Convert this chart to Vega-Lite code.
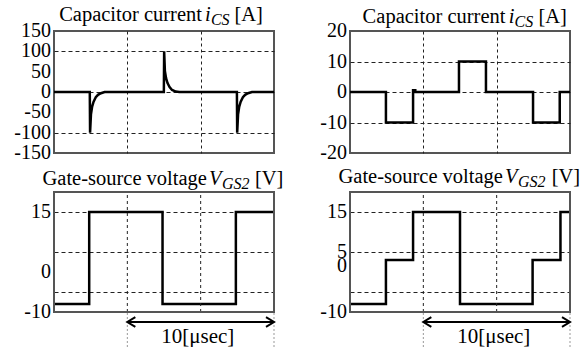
{
  "$schema": "https://vega.github.io/schema/vega-lite/v6.json",
  "autosize": {"type": "pad"},
  "padding": {"left": 13, "top": 4, "right": 0, "bottom": 0},
  "background": "white",
  "bounds": "flush",
  "columns": 2,
  "spacing": {"row": 39, "column": 76},
  "datasets": {
    "tl": [{"t":0,"i":0},{"t":2.44,"i":0},{"t":2.46,"i":-100},{"t":2.52,"i":-55},{"t":2.6,"i":-36},{"t":2.7,"i":-24},{"t":2.85,"i":-13},{"t":3.0,"i":-7},{"t":3.2,"i":-3},{"t":3.45,"i":0},{"t":7.49,"i":0},{"t":7.51,"i":100},{"t":7.56,"i":52},{"t":7.64,"i":34},{"t":7.74,"i":22},{"t":7.88,"i":12},{"t":8.05,"i":5},{"t":8.3,"i":1},{"t":8.55,"i":0},{"t":12.47,"i":0},{"t":12.49,"i":-100},{"t":12.55,"i":-55},{"t":12.63,"i":-36},{"t":12.73,"i":-24},{"t":12.88,"i":-13},{"t":13.03,"i":-7},{"t":13.23,"i":-3},{"t":13.5,"i":0},{"t":15,"i":0}],
    "tr": [{"t":0,"i":0},{"t":2.45,"i":-10},{"t":4.3,"i":0.6},{"t":4.45,"i":0},{"t":7.43,"i":10},{"t":9.27,"i":0},{"t":12.48,"i":-10},{"t":14.3,"i":0},{"t":15,"i":0}],
    "bl": [{"t":0,"v":-8},{"t":2.4,"v":15},{"t":7.4,"v":-8},{"t":12.4,"v":15},{"t":15,"v":15}],
    "br": [{"t":0,"v":-8},{"t":2.45,"v":3},{"t":4.3,"v":15},{"t":7.5,"v":-8},{"t":12.45,"v":3},{"t":14.35,"v":15},{"t":15,"v":15}]
  },
  "concat": [
    {
      "width": 220, "height": 122,
      "layer": [
        {"data": {"name": "tl"}, "mark": {"type": "line", "strokeWidth": 2.5, "clip": true},
         "encoding": {
           "x": {"field": "t", "type": "quantitative", "scale": {"domain": [0, 15], "nice": false}, "axis": {"values": [5, 10], "labels": false, "ticks": false, "domain": false, "grid": true, "gridDash": [3, 3], "gridColor": "#222", "title": null}},
           "y": {"field": "i", "type": "quantitative", "scale": {"domain": [-150, 150], "nice": false}, "axis": {"values": [-100, -50, 0, 50, 100], "labels": false, "ticks": false, "domain": false, "grid": true, "gridDash": [4, 3], "gridColor": "#222", "title": null}}
         }},
        {"data": {"values": [{"v": 150}, {"v": 100}, {"v": 50}, {"v": 0}, {"v": -50}, {"v": -100}, {"v": -150}]},
         "mark": {"type": "text", "align": "right", "baseline": "middle", "dx": -3, "fontSize": 20},
         "encoding": {"x": {"datum": 0}, "y": {"field": "v", "type": "quantitative"}, "text": {"field": "v", "type": "nominal"}}},
        {"data": {"values": [{"s": "Capacitor current"}]}, "mark": {"type": "text", "align": "right", "baseline": "alphabetic", "dy": -10, "fontSize": 20.5},
         "encoding": {"x": {"datum": 10.09}, "y": {"datum": 150}, "text": {"field": "s"}}},
        {"data": {"values": [{"s": "i"}]}, "mark": {"type": "text", "align": "left", "baseline": "alphabetic", "dy": -10, "fontStyle": "italic", "fontSize": 20.5},
         "encoding": {"x": {"datum": 10.3}, "y": {"datum": 150}, "text": {"field": "s"}}},
        {"data": {"values": [{"s": "CS"}]}, "mark": {"type": "text", "align": "left", "baseline": "alphabetic", "dy": -6, "fontStyle": "italic", "fontSize": 16},
         "encoding": {"x": {"datum": 10.7}, "y": {"datum": 150}, "text": {"field": "s"}}},
        {"data": {"values": [{"s": "[A]"}]}, "mark": {"type": "text", "align": "left", "baseline": "alphabetic", "dy": -10, "fontSize": 20.5},
         "encoding": {"x": {"datum": 12.3}, "y": {"datum": 150}, "text": {"field": "s"}}}
      ]
    },
    {
      "width": 220, "height": 122,
      "layer": [
        {"data": {"name": "tr"}, "mark": {"type": "line", "strokeWidth": 2.5, "interpolate": "step-after"},
         "encoding": {
           "x": {"field": "t", "type": "quantitative", "scale": {"domain": [0, 15], "nice": false}, "axis": {"values": [5, 10], "labels": false, "ticks": false, "domain": false, "grid": true, "gridDash": [3, 3], "gridColor": "#222", "title": null}},
           "y": {"field": "i", "type": "quantitative", "scale": {"domain": [-20, 20], "nice": false}, "axis": {"values": [-10, 0, 10], "labels": false, "ticks": false, "domain": false, "grid": true, "gridDash": [4, 3], "gridColor": "#222", "title": null}}
         }},
        {"data": {"values": [{"v": 20}, {"v": 10}, {"v": 0}, {"v": -10}, {"v": -20}]},
         "mark": {"type": "text", "align": "right", "baseline": "middle", "dx": -3, "fontSize": 20},
         "encoding": {"x": {"datum": 0}, "y": {"field": "v", "type": "quantitative"}, "text": {"field": "v", "type": "nominal"}}},
        {"data": {"values": [{"s": "Capacitor current"}]}, "mark": {"type": "text", "align": "right", "baseline": "alphabetic", "dy": -8, "fontSize": 20.5},
         "encoding": {"x": {"datum": 10.6}, "y": {"datum": 20}, "text": {"field": "s"}}},
        {"data": {"values": [{"s": "i"}]}, "mark": {"type": "text", "align": "left", "baseline": "alphabetic", "dy": -8, "fontStyle": "italic", "fontSize": 20.5},
         "encoding": {"x": {"datum": 10.82}, "y": {"datum": 20}, "text": {"field": "s"}}},
        {"data": {"values": [{"s": "CS"}]}, "mark": {"type": "text", "align": "left", "baseline": "alphabetic", "dy": -4, "fontStyle": "italic", "fontSize": 16},
         "encoding": {"x": {"datum": 11.22}, "y": {"datum": 20}, "text": {"field": "s"}}},
        {"data": {"values": [{"s": "[A]"}]}, "mark": {"type": "text", "align": "left", "baseline": "alphabetic", "dy": -8, "fontSize": 20.5},
         "encoding": {"x": {"datum": 12.85}, "y": {"datum": 20}, "text": {"field": "s"}}}
      ]
    },
    {
      "width": 220, "height": 155,
      "view": {"stroke": null},
      "layer": [
        {"data": {"name": "bl"}, "mark": {"type": "line", "strokeWidth": 2.5, "interpolate": "step-after"},
         "encoding": {
           "x": {"field": "t", "type": "quantitative", "scale": {"domain": [0, 15], "nice": false}, "axis": null},
           "y": {"field": "v", "type": "quantitative", "scale": {"domain": [-18.75, 20], "nice": false, "zero": false},
                 "axis": {"values": [15, 10, 5, 0, -5], "labels": false, "ticks": false, "domain": false, "grid": true, "gridDash": [4, 3], "gridColor": "#222", "title": null}}
         }},
        {"data": {"values": [{"v": 15}, {"v": 0}, {"v": -10}]},
         "mark": {"type": "text", "align": "right", "baseline": "middle", "dx": -3, "fontSize": 20},
         "encoding": {"x": {"datum": 0}, "y": {"field": "v", "type": "quantitative"}, "text": {"field": "v", "type": "nominal"}}},
        {"data": {"values": [{"t": 5}, {"t": 10}]}, "mark": {"type": "rule", "color": "#222", "strokeDash": [3, 3], "strokeWidth": 1},
         "encoding": {"x": {"field": "t", "type": "quantitative"}, "y": {"datum": -10}, "y2": {"datum": 20}}},
        {"data": {"values": [{"t": 5}, {"t": 15}]}, "mark": {"type": "rule", "color": "#999", "strokeDash": [2, 2], "strokeWidth": 1},
         "encoding": {"x": {"field": "t", "type": "quantitative"}, "y": {"datum": -18.75}, "y2": {"datum": -10}}},
        {"data": {"values": [{}]}, "mark": {"type": "rect", "fill": null, "stroke": "#555", "strokeWidth": 2},
         "encoding": {"x": {"datum": 0}, "x2": {"datum": 15}, "y": {"datum": -10}, "y2": {"datum": 20}}},
        {"data": {"values": [{}]}, "mark": {"type": "rule", "strokeWidth": 2},
         "encoding": {"x": {"datum": 5}, "x2": {"datum": 15}, "y": {"datum": -12.5}}},
        {"data": {"values": [{}]}, "mark": {"type": "point", "shape": "M1,-0.6L0,0L1,0.6", "size": 256, "filled": false, "strokeWidth": 2, "opacity": 1},
         "encoding": {"x": {"datum": 5}, "y": {"datum": -12.5}}},
        {"data": {"values": [{}]}, "mark": {"type": "point", "shape": "M-1,-0.6L0,0L-1,0.6", "size": 256, "filled": false, "strokeWidth": 2, "opacity": 1},
         "encoding": {"x": {"datum": 15}, "y": {"datum": -12.5}}},
        {"data": {"values": [{"s": "10[μsec]"}]}, "mark": {"type": "text", "align": "center", "baseline": "alphabetic", "fontSize": 21},
         "encoding": {"x": {"datum": 9.8}, "y": {"datum": -17.75}, "text": {"field": "s"}}},
        {"data": {"values": [{"s": "Gate-source voltage"}]}, "mark": {"type": "text", "align": "right", "baseline": "alphabetic", "dy": -7, "fontSize": 20.5},
         "encoding": {"x": {"datum": 10.43}, "y": {"datum": 20}, "text": {"field": "s"}}},
        {"data": {"values": [{"s": "V"}]}, "mark": {"type": "text", "align": "left", "baseline": "alphabetic", "dy": -7, "fontStyle": "italic", "fontSize": 20.5},
         "encoding": {"x": {"datum": 10.57}, "y": {"datum": 20}, "text": {"field": "s"}}},
        {"data": {"values": [{"s": "GS2"}]}, "mark": {"type": "text", "align": "left", "baseline": "alphabetic", "dy": -3, "fontStyle": "italic", "fontSize": 16},
         "encoding": {"x": {"datum": 11.45}, "y": {"datum": 20}, "text": {"field": "s"}}},
        {"data": {"values": [{"s": "[V]"}]}, "mark": {"type": "text", "align": "left", "baseline": "alphabetic", "dy": -7, "fontSize": 20.5},
         "encoding": {"x": {"datum": 13.7}, "y": {"datum": 20}, "text": {"field": "s"}}}
      ]
    },
    {
      "width": 220, "height": 155,
      "view": {"stroke": null},
      "layer": [
        {"data": {"name": "br"}, "mark": {"type": "line", "strokeWidth": 2.5, "interpolate": "step-after"},
         "encoding": {
           "x": {"field": "t", "type": "quantitative", "scale": {"domain": [0, 15], "nice": false}, "axis": null},
           "y": {"field": "v", "type": "quantitative", "scale": {"domain": [-18.75, 20], "nice": false, "zero": false},
                 "axis": {"values": [15, 10, 5, 0, -5], "labels": false, "ticks": false, "domain": false, "grid": true, "gridDash": [4, 3], "gridColor": "#222", "title": null}}
         }},
        {"data": {"values": [{"v": 15}, {"v": 5}, {"v": -10}]},
         "mark": {"type": "text", "align": "right", "baseline": "middle", "dx": -3, "fontSize": 20},
         "encoding": {"x": {"datum": 0}, "y": {"field": "v", "type": "quantitative"}, "text": {"field": "v", "type": "nominal"}}},
        {"data": {"values": [{"v": 0}]},
         "mark": {"type": "text", "align": "right", "baseline": "middle", "dx": -3, "dy": -6, "fontSize": 20},
         "encoding": {"x": {"datum": 0}, "y": {"field": "v", "type": "quantitative"}, "text": {"field": "v", "type": "nominal"}}},
        {"data": {"values": [{"t": 5}, {"t": 10}]}, "mark": {"type": "rule", "color": "#222", "strokeDash": [3, 3], "strokeWidth": 1},
         "encoding": {"x": {"field": "t", "type": "quantitative"}, "y": {"datum": -10}, "y2": {"datum": 20}}},
        {"data": {"values": [{"t": 5}, {"t": 15}]}, "mark": {"type": "rule", "color": "#999", "strokeDash": [2, 2], "strokeWidth": 1},
         "encoding": {"x": {"field": "t", "type": "quantitative"}, "y": {"datum": -18.75}, "y2": {"datum": -10}}},
        {"data": {"values": [{}]}, "mark": {"type": "rect", "fill": null, "stroke": "#555", "strokeWidth": 2},
         "encoding": {"x": {"datum": 0}, "x2": {"datum": 15}, "y": {"datum": -10}, "y2": {"datum": 20}}},
        {"data": {"values": [{}]}, "mark": {"type": "rule", "strokeWidth": 2},
         "encoding": {"x": {"datum": 5}, "x2": {"datum": 15}, "y": {"datum": -12.5}}},
        {"data": {"values": [{}]}, "mark": {"type": "point", "shape": "M1,-0.6L0,0L1,0.6", "size": 256, "filled": false, "strokeWidth": 2, "opacity": 1},
         "encoding": {"x": {"datum": 5}, "y": {"datum": -12.5}}},
        {"data": {"values": [{}]}, "mark": {"type": "point", "shape": "M-1,-0.6L0,0L-1,0.6", "size": 256, "filled": false, "strokeWidth": 2, "opacity": 1},
         "encoding": {"x": {"datum": 15}, "y": {"datum": -12.5}}},
        {"data": {"values": [{"s": "10[μsec]"}]}, "mark": {"type": "text", "align": "center", "baseline": "alphabetic", "fontSize": 21},
         "encoding": {"x": {"datum": 9.8}, "y": {"datum": -17.75}, "text": {"field": "s"}}},
        {"data": {"values": [{"s": "Gate-source voltage"}]}, "mark": {"type": "text", "align": "right", "baseline": "alphabetic", "dy": -9, "fontSize": 20.5},
         "encoding": {"x": {"datum": 10.43}, "y": {"datum": 20}, "text": {"field": "s"}}},
        {"data": {"values": [{"s": "V"}]}, "mark": {"type": "text", "align": "left", "baseline": "alphabetic", "dy": -9, "fontStyle": "italic", "fontSize": 20.5},
         "encoding": {"x": {"datum": 10.57}, "y": {"datum": 20}, "text": {"field": "s"}}},
        {"data": {"values": [{"s": "GS2"}]}, "mark": {"type": "text", "align": "left", "baseline": "alphabetic", "dy": -5, "fontStyle": "italic", "fontSize": 16},
         "encoding": {"x": {"datum": 11.45}, "y": {"datum": 20}, "text": {"field": "s"}}},
        {"data": {"values": [{"s": "[V]"}]}, "mark": {"type": "text", "align": "left", "baseline": "alphabetic", "dy": -9, "fontSize": 20.5},
         "encoding": {"x": {"datum": 13.75}, "y": {"datum": 20}, "text": {"field": "s"}}}
      ]
    }
  ],
  "config": {
    "view": {"stroke": "#555", "strokeWidth": 2},
    "font": "Liberation Serif",
    "mark": {"color": "black"},
    "text": {"font": "Liberation Serif", "fontSize": 20, "color": "black"},
    "axis": {"ticks": false, "domain": false, "labels": false, "gridColor": "#222", "gridWidth": 1, "gridOpacity": 1}
  }
}
